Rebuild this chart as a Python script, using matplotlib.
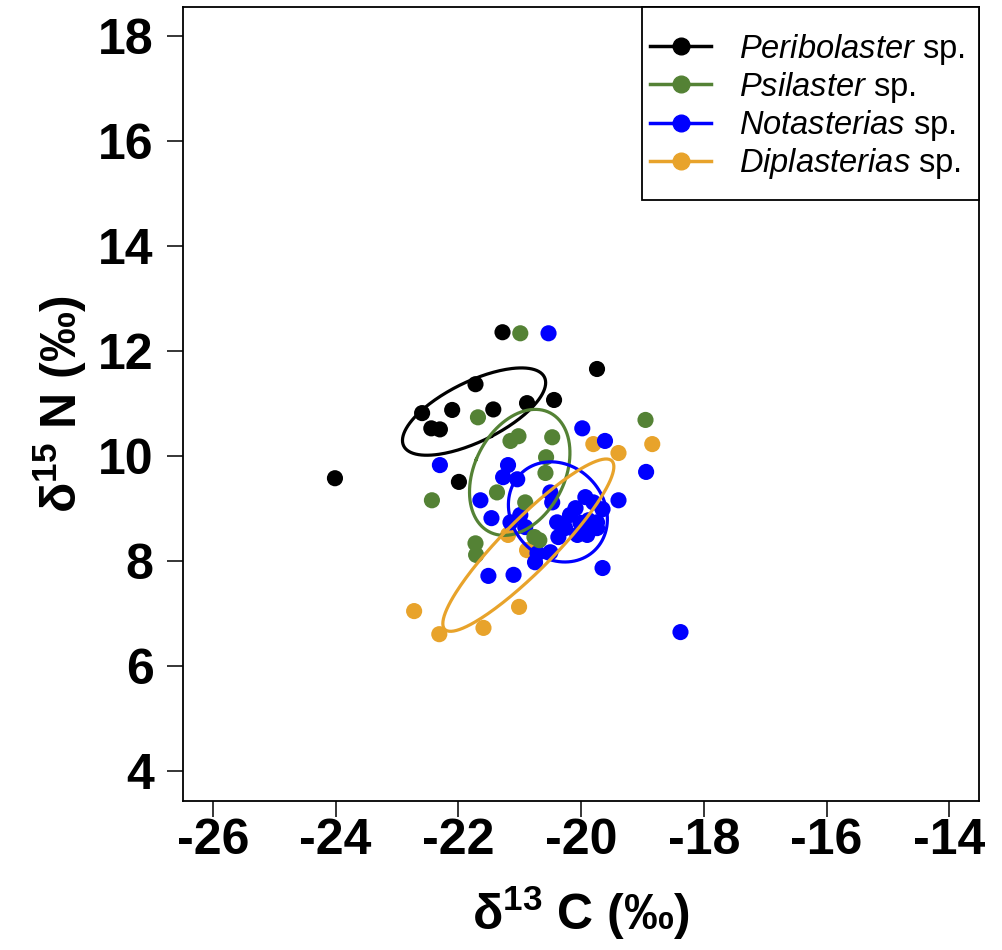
import numpy as np
import matplotlib
matplotlib.use("Agg")
import matplotlib.pyplot as plt
from matplotlib.lines import Line2D
from matplotlib.patches import Rectangle

plt.rcParams['font.family'] = ['Liberation Sans', 'DejaVu Sans']
plt.rcParams['mathtext.fontset'] = 'custom'
plt.rcParams['mathtext.rm'] = 'Liberation Sans'
plt.rcParams['mathtext.it'] = 'Liberation Sans:italic'
plt.rcParams['mathtext.bf'] = 'Liberation Sans:bold'
plt.rcParams['axes.unicode_minus'] = False

# d13C / d15N values
peri_c = [-21.28, -19.74, -21.72, -22.59, -22.10, -21.43, -20.88, -20.44,
          -22.44, -22.30, -24.01, -21.99]
peri_n = [12.36, 11.66, 11.37, 10.82, 10.88, 10.89, 11.01, 11.07,
          10.53, 10.51, 9.58, 9.51]

psil_c = [-20.99, -21.68, -18.95, -21.15, -21.02, -20.47, -20.57, -20.58,
          -22.43, -21.37, -20.91, -21.72, -21.71, -20.76, -20.68]
psil_n = [12.34, 10.74, 10.69, 10.29, 10.38, 10.36, 9.98, 9.68,
          9.16, 9.31, 9.12, 8.34, 8.12, 8.46, 8.40]

nota_c = [-20.53, -19.98, -19.61, -18.94, -22.30, -18.38, -21.19, -21.27,
          -21.04, -21.64, -21.46, -20.50, -20.47, -21.15, -20.99, -20.91,
          -19.93, -19.80, -19.65, -19.39, -20.09, -20.18, -20.39, -20.26,
          -20.01, -19.88, -19.74, -20.37, -20.06, -19.90, -19.74, -20.71,
          -20.75, -20.50, -21.51, -21.10, -19.65]
nota_n = [12.34, 10.53, 10.29, 9.70, 9.83, 6.65, 9.83, 9.60,
          9.56, 9.16, 8.82, 9.31, 9.12, 8.74, 8.88, 8.65,
          9.22, 9.12, 8.99, 9.16, 9.01, 8.88, 8.74, 8.63,
          8.73, 8.78, 8.63, 8.46, 8.50, 8.50, 8.74, 8.15,
          7.98, 8.17, 7.72, 7.74, 7.87]

dipl_c = [-19.80, -19.39, -18.84, -21.19, -20.88, -22.72, -22.31, -21.59, -21.01]
dipl_n = [10.23, 10.06, 10.23, 8.50, 8.21, 7.05, 6.61, 6.73, 7.13]

names = ['Peribolaster', 'Psilaster', 'Notasterias', 'Diplasterias']
colors = ['#000000', '#548235', '#0000FF', '#E8A32B']
groups = [(peri_c, peri_n), (psil_c, psil_n), (nota_c, nota_n), (dipl_c, dipl_n)]


def std_ellipse(x, y, npts=200):
    # small-sample corrected standard ellipse (SEAc)
    x = np.asarray(x)
    y = np.asarray(y)
    n = len(x)
    cov = np.cov(x, y)
    vals, vecs = np.linalg.eigh(cov)
    scale = np.sqrt(vals * (n - 1) / (n - 2))
    t = np.linspace(0, 2 * np.pi, npts)
    circ = np.vstack([np.cos(t) * scale[0], np.sin(t) * scale[1]])
    pts = vecs @ circ
    return x.mean() + pts[0], y.mean() + pts[1]


fig = plt.figure(figsize=(10.02, 9.5), dpi=100)
ax = fig.add_axes([0.183, 0.1572, 0.7938, 0.8358])

for i in [3, 2, 1, 0]:
    gx, gy = groups[i]
    ax.scatter(gx, gy, s=135, color=colors[i], edgecolors='none', zorder=2)

for i in range(4):
    ex, ey = std_ellipse(*groups[i])
    ax.plot(ex, ey, color=colors[i], lw=2.3, zorder=3)

ax.set_xlim(-26.48, -13.52)
ax.set_ylim(3.44, 18.56)
ax.set_xticks(np.arange(-26, -13, 2))
ax.set_yticks(np.arange(4, 19, 2))
for sp in ax.spines.values():
    sp.set_linewidth(1.3)
ax.tick_params(length=11.5, width=1.1, labelsize=36)
ax.tick_params(axis='x', pad=1)
ax.tick_params(axis='y', pad=10)
for lab in ax.get_xticklabels() + ax.get_yticklabels():
    lab.set_fontweight('bold')

ax.set_xlabel(r'δ$^{\mathbf{13}}$ C (‰)', fontsize=36, fontweight='bold', labelpad=14)
ax.set_ylabel(r'δ$^{\mathbf{15}}$ N (‰)', fontsize=36, fontweight='bold', labelpad=6)

# legend box drawn separately so the padding can match the original
ax.add_patch(Rectangle((0.5767, 0.7565), 0.4233, 0.2435, transform=ax.transAxes,
                       facecolor='white', edgecolor='black', lw=1.3, zorder=4,
                       clip_on=False))
handles = [Line2D([0], [0], color=c, lw=2.5, marker='o', markersize=12)
           for c in colors]
labels = [r'$\mathit{' + n + '}$ sp.' for n in names]
leg = ax.legend(handles, labels, loc='upper left', bbox_to_anchor=(0.5867, 0.9687),
                borderaxespad=0, borderpad=0, fontsize=23.5, frameon=False,
                handlelength=1.87, labelspacing=0.10, handletextpad=0.85)
leg.set_zorder(5)

fig.savefig('out.png', dpi=100)
